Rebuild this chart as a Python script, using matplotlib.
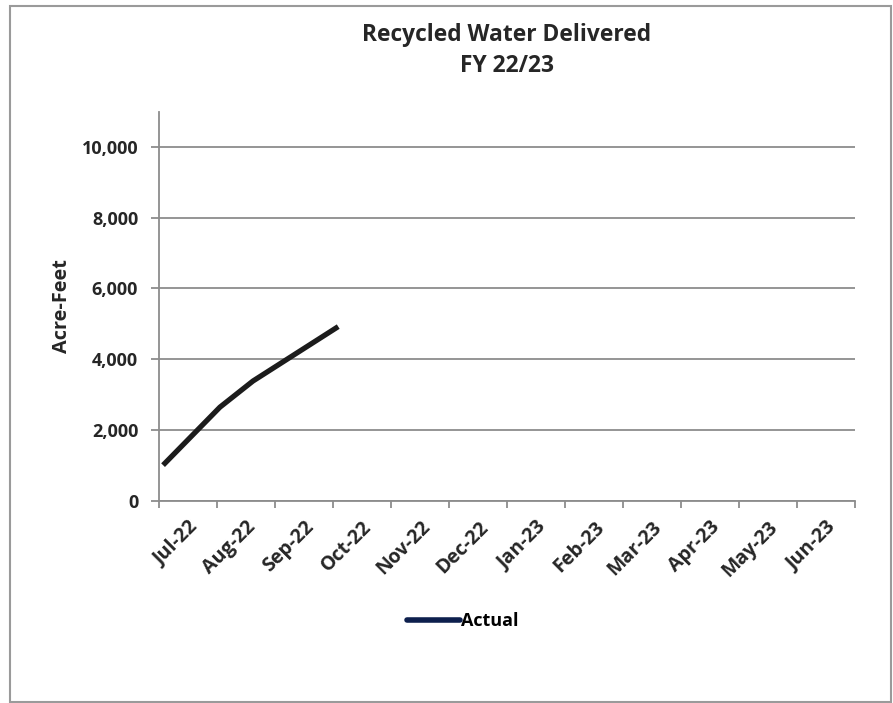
import matplotlib
matplotlib.use("Agg")
import matplotlib.pyplot as plt
from matplotlib.lines import Line2D
from matplotlib.patches import Rectangle

# months of the fiscal year (category labels)
months = ["Jul-22", "Aug-22", "Sep-22", "Oct-22", "Nov-22", "Dec-22",
          "Jan-23", "Feb-23", "Mar-23", "Apr-23", "May-23", "Jun-23"]

# cumulative deliveries, x in months since Jul 1
month_pos = [0.07, 1.05, 1.62, 3.09]
acre_feet = [1000, 2640, 3380, 4920]

y_ticks = [0, 2000, 4000, 6000, 8000, 10000]

plt.rcParams['font.family'] = ['Open Sans', 'DejaVu Sans']
grey = '#8c8c8c'
txt = '#262626'

fig = plt.figure(figsize=(8.93, 7.03), dpi=100)
ax = fig.add_axes([159/893, 1 - 500.5/703, (855-159)/893, (500.5-111.7)/703])

ax.plot(month_pos, acre_feet, color='#1c1c1c', lw=3.8, solid_capstyle='butt')

ax.set_xlim(0, 12)
ax.set_ylim(0, 11000)

ax.set_yticks(y_ticks)
ax.set_yticklabels([f"{v:,}" for v in y_ticks], fontweight='bold', fontsize=13, color=txt)
ax.yaxis.grid(True, color=grey, lw=1.3)
ax.set_axisbelow(True)

ax.set_xticks(range(13))
ax.set_xticklabels([])
ax.set_xticks([i + 0.5 for i in range(12)], minor=True)
ax.set_xticklabels(months, minor=True, rotation=45, ha='right', va='top',
                   rotation_mode='anchor', fontweight='bold', fontsize=14, color=txt)
ax.tick_params(axis='x', which='minor', length=0, pad=12)
ax.tick_params(axis='x', which='major', length=5, color=grey, width=1.3)
ax.tick_params(axis='y', length=6, color=grey, width=1.3, pad=9)

for s in ['top', 'right']:
    ax.spines[s].set_visible(False)
for s in ['left', 'bottom']:
    ax.spines[s].set_color(grey)
    ax.spines[s].set_linewidth(1.3)

ax.set_ylabel("Acre-Feet", fontweight='bold', fontsize=14.3, color=txt, labelpad=7)

fig.text(507/893, 1 - 35/703, "Recycled Water Delivered", ha='center', va='center',
         fontweight='bold', fontsize=16.4, color=txt)
fig.text(507/893, 1 - 66/703, "FY 22/23", ha='center', va='center',
         fontweight='bold', fontsize=16.4, color=txt)

handle = Line2D([], [], color='#0d1f4d', lw=4, solid_capstyle='round')
fig.legend([handle], ["Actual"], loc='center', bbox_to_anchor=(463/893, 1 - 621/703),
           frameon=False, handlelength=2.9, handletextpad=0.1,
           prop={'weight': 'bold', 'size': 13})

fig.patches.append(Rectangle((10/893, 1/703), (891-10)/893, (698-2)/703,
                             transform=fig.transFigure, fill=False,
                             edgecolor='#9a9a9a', lw=1.5))

fig.savefig("out.png", dpi=100)
